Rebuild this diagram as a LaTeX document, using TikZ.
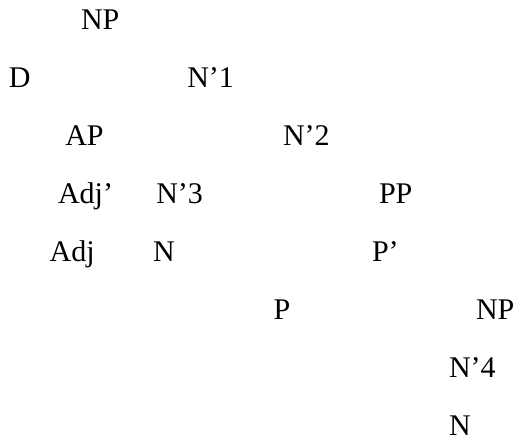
\documentclass[tikz,border=0pt]{standalone}
\usepackage{fontspec}
\setmainfont{Liberation Serif}
\begin{document}
\begin{tikzpicture}[x=1pt,y=1pt,
  lbl/.style={anchor=base west,inner sep=0pt,outer sep=0pt,font=\fontsize{30}{36}\selectfont}]
\useasboundingbox (0,0) rectangle (516,441);
\node[lbl] (np1) at (81,411.7) {NP};
\node[lbl] (d) at (9,353.7) {D};
\node[lbl] (n1) at (187.3,353.7) {N’1};
\node[lbl] (ap) at (65.3,295.7) {AP};
\node[lbl] (n2) at (283,295.7) {N’2};
\node[lbl] (adjb) at (58,237.7) {Adj’};
\node[lbl] (n3) at (156.3,237.7) {N’3};
\node[lbl] (pp) at (379,237.7) {PP};
\node[lbl] (adj) at (49.7,179.7) {Adj};
\node[lbl] (n) at (153,179.7) {N};
\node[lbl] (pb) at (372,179.7) {P’};
\node[lbl] (p) at (273.5,121.7) {P};
\node[lbl] (np2) at (476,121.7) {NP};
\node[lbl] (n4) at (449,63.7) {N’4};
\node[lbl] (nn) at (449,5.7) {N};
\end{tikzpicture}
\end{document}
